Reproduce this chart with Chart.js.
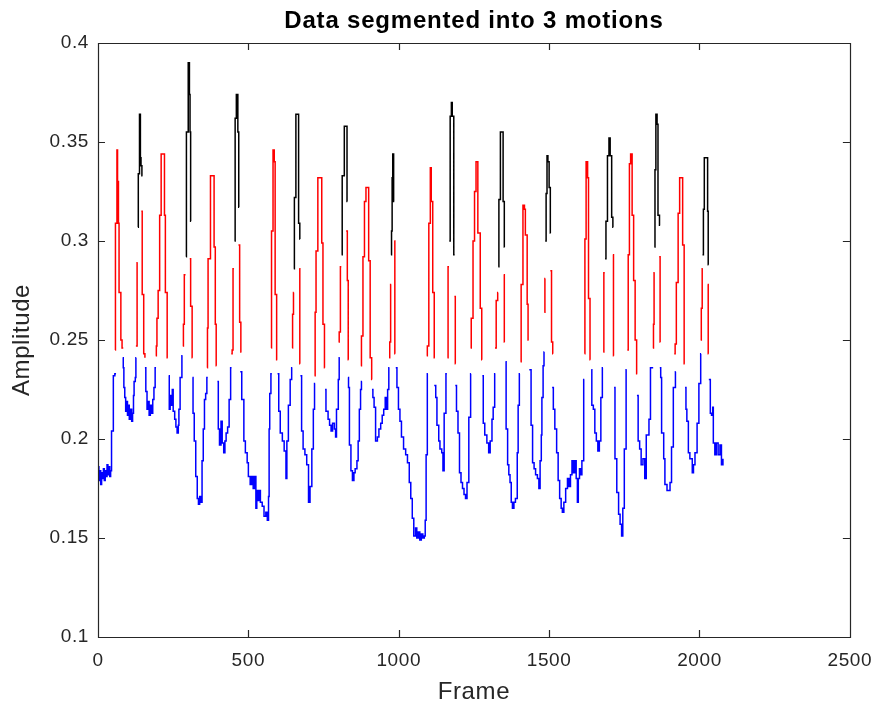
<!DOCTYPE html>
<html>
<head>
<meta charset="utf-8">
<script src="https://cdn.jsdelivr.net/npm/chart.js@4/dist/chart.umd.min.js"></script>
<style>
  html, body { margin: 0; padding: 0; background: #ffffff; }
  canvas { display: block; }
</style>
</head>
<body>
<canvas id="c" width="883" height="711"></canvas>
<script>
// ---- Data (frame, amplitude), one run per contiguous segment ----
const chartTitle = 'Data segmented into 3 motions';
const xLabel = 'Frame';
const yLabel = 'Amplitude';
const xTickValues = [0, 500, 1000, 1500, 2000, 2500];
const yTickValues = [0.1, 0.15, 0.2, 0.25, 0.3, 0.35, 0.4];

const blueSegments = [
  [[0,0.186],[3,0.179],[6,0.184],[9,0.177],[12,0.183],[15,0.180],[18,0.185],[21,0.179],[24,0.184],[27,0.181],[30,0.187],[33,0.182],[36,0.186],[39,0.181],[42,0.184],[45,0.204],[51,0.232],[56,0.233],[60,0.233]],
  [[82,0.241],[84,0.236],[86,0.226],[89,0.221],[92,0.214],[95,0.219],[98,0.212],[101,0.217],[104,0.210],[108,0.215],[112,0.209],[115,0.213],[118,0.222],[120,0.229],[124,0.231],[126,0.241],[127,0.241]],
  [[156,0.236],[159,0.224],[163,0.215],[167,0.219],[170,0.212],[174,0.217],[178,0.213],[182,0.220],[186,0.226],[190,0.236],[193,0.236]],
  [[235,0.232],[237,0.215],[240,0.222],[244,0.217],[247,0.225],[250,0.214],[255,0.210],[259,0.206],[263,0.203],[267,0.207],[269,0.215],[273,0.231],[279,0.242],[281,0.242]],
  [[314,0.231],[316,0.213],[320,0.199],[325,0.181],[330,0.170],[334,0.167],[338,0.171],[342,0.168],[346,0.189],[350,0.205],[354,0.220],[358,0.223],[362,0.231],[365,0.231]],
  [[397,0.229],[400,0.205],[404,0.197],[409,0.209],[413,0.198],[418,0.193],[422,0.199],[426,0.203],[431,0.206],[436,0.220],[441,0.236],[444,0.236]],
  [[473,0.234],[478,0.220],[485,0.199],[490,0.193],[496,0.188],[500,0.181],[506,0.177],[511,0.181],[516,0.175],[521,0.181],[525,0.165],[528,0.174],[532,0.169],[536,0.174],[540,0.168],[546,0.166],[552,0.161],[558,0.163],[563,0.159],[567,0.171],[569,0.205],[571,0.223],[575,0.233],[578,0.233]],
  [[597,0.233],[601,0.214],[606,0.203],[613,0.199],[619,0.194],[625,0.180],[628,0.199],[633,0.217],[639,0.230],[644,0.236],[646,0.236]],
  [[673,0.232],[677,0.204],[682,0.195],[688,0.192],[694,0.187],[700,0.168],[705,0.176],[711,0.195],[716,0.215],[720,0.228],[722,0.228]],
  [[755,0.225],[758,0.214],[765,0.210],[770,0.207],[775,0.204],[780,0.208],[786,0.205],[790,0.201],[793,0.215],[799,0.230],[802,0.241],[804,0.241]],
  [[831,0.231],[833,0.226],[836,0.197],[841,0.184],[846,0.179],[851,0.183],[855,0.185],[861,0.189],[865,0.199],[869,0.215],[873,0.225],[876,0.229],[878,0.229]],
  [[911,0.225],[914,0.221],[918,0.216],[923,0.199],[929,0.201],[934,0.205],[940,0.208],[945,0.212],[950,0.215],[955,0.221],[959,0.215],[963,0.225],[967,0.236],[969,0.236]],
  [[990,0.236],[994,0.226],[999,0.215],[1004,0.209],[1009,0.201],[1016,0.195],[1023,0.192],[1029,0.188],[1035,0.178],[1040,0.170],[1045,0.160],[1050,0.151],[1056,0.155],[1060,0.150],[1065,0.153],[1070,0.149],[1075,0.152],[1080,0.150],[1085,0.151],[1088,0.159],[1091,0.192],[1095,0.233],[1097,0.233]],
  [[1118,0.227],[1123,0.221],[1127,0.207],[1133,0.199],[1137,0.195],[1143,0.193],[1147,0.184],[1151,0.213],[1157,0.233],[1160,0.233]],
  [[1188,0.227],[1192,0.214],[1197,0.203],[1202,0.183],[1207,0.178],[1212,0.175],[1217,0.172],[1222,0.170],[1227,0.178],[1233,0.211],[1239,0.233],[1240,0.233]],
  [[1278,0.232],[1281,0.208],[1286,0.202],[1293,0.198],[1299,0.193],[1304,0.199],[1310,0.210],[1314,0.216],[1319,0.233],[1321,0.233]],
  [[1355,0.239],[1357,0.205],[1362,0.187],[1366,0.182],[1370,0.178],[1374,0.168],[1378,0.165],[1383,0.168],[1388,0.170],[1394,0.193],[1397,0.217],[1401,0.233],[1403,0.233]],
  [[1434,0.235],[1440,0.207],[1445,0.188],[1450,0.185],[1455,0.182],[1461,0.180],[1466,0.175],[1470,0.189],[1474,0.202],[1476,0.221],[1480,0.237],[1483,0.244],[1484,0.244]],
  [[1510,0.226],[1514,0.215],[1519,0.205],[1525,0.193],[1530,0.179],[1535,0.170],[1540,0.165],[1544,0.163],[1549,0.168],[1555,0.175],[1561,0.180],[1566,0.176],[1571,0.182],[1576,0.189],[1581,0.183],[1586,0.189],[1590,0.180],[1594,0.168],[1597,0.180],[1601,0.185],[1605,0.182],[1609,0.189],[1615,0.230],[1617,0.230]],
  [[1640,0.235],[1642,0.217],[1647,0.215],[1652,0.203],[1657,0.199],[1662,0.194],[1667,0.199],[1672,0.221],[1677,0.236],[1679,0.236]],
  [[1716,0.226],[1719,0.190],[1725,0.173],[1731,0.162],[1736,0.157],[1741,0.151],[1745,0.165],[1750,0.195],[1756,0.235],[1758,0.235]],
  [[1792,0.222],[1796,0.199],[1801,0.195],[1806,0.187],[1812,0.190],[1818,0.180],[1823,0.202],[1829,0.202],[1832,0.210],[1837,0.236],[1846,0.236]],
  [[1868,0.236],[1871,0.231],[1874,0.203],[1881,0.190],[1885,0.177],[1892,0.174],[1898,0.174],[1902,0.178],[1907,0.196],[1913,0.226],[1920,0.234],[1921,0.234]],
  [[1952,0.226],[1955,0.215],[1958,0.209],[1963,0.193],[1968,0.190],[1976,0.183],[1980,0.187],[1985,0.193],[1992,0.208],[1998,0.228],[2004,0.243],[2005,0.243]],
  [[2031,0.230],[2036,0.213],[2040,0.212],[2044,0.216],[2046,0.198],[2051,0.192],[2056,0.198],[2062,0.192],[2068,0.197],[2073,0.187],[2078,0.190]]
];

const redSegments = [
  [[57,0.245],[58,0.309],[63,0.346],[65,0.330],[68,0.309],[70,0.274],[76,0.250],[80,0.246],[84,0.246]],
  [[126,0.247],[130,0.289],[132,0.289]],
  [[144,0.315],[147,0.273],[152,0.243],[156,0.241]],
  [[192,0.242],[194,0.247],[196,0.261],[200,0.275],[205,0.313],[210,0.344],[218,0.344],[221,0.313],[224,0.274],[230,0.241],[232,0.241]],
  [[282,0.247],[284,0.258],[287,0.283],[291,0.283]],
  [[305,0.291],[308,0.267],[313,0.241],[314,0.241]],
  [[363,0.236],[364,0.256],[366,0.291],[374,0.333],[383,0.333],[386,0.297],[390,0.258],[393,0.237],[394,0.237]],
  [[443,0.243],[446,0.245],[449,0.286],[452,0.286]],
  [[467,0.298],[471,0.259],[475,0.244],[477,0.244]],
  [[576,0.246],[577,0.305],[582,0.346],[586,0.340],[589,0.273],[594,0.240],[596,0.240]],
  [[646,0.246],[647,0.263],[650,0.274],[651,0.274]],
  [[669,0.286],[671,0.238],[672,0.238]],
  [[720,0.232],[722,0.264],[725,0.295],[731,0.332],[739,0.332],[744,0.299],[748,0.258],[753,0.236],[754,0.236]],
  [[800,0.249],[802,0.254],[806,0.287],[809,0.287]],
  [[825,0.305],[829,0.280],[832,0.240],[833,0.240]],
  [[874,0.237],[876,0.252],[881,0.292],[886,0.320],[891,0.327],[897,0.327],[900,0.290],[905,0.241],[910,0.230],[911,0.230]],
  [[968,0.241],[970,0.249],[973,0.278],[975,0.278]],
  [[985,0.300],[987,0.243],[988,0.243]],
  [[1093,0.242],[1095,0.247],[1100,0.309],[1105,0.337],[1108,0.320],[1113,0.274],[1118,0.241],[1120,0.241]],
  [[1162,0.241],[1164,0.287],[1167,0.287]],
  [[1185,0.272],[1188,0.238],[1189,0.238]],
  [[1239,0.246],[1241,0.261],[1247,0.300],[1252,0.325],[1257,0.340],[1260,0.340],[1263,0.304],[1271,0.266],[1276,0.240],[1277,0.240]],
  [[1320,0.246],[1324,0.270],[1329,0.274],[1330,0.274]],
  [[1349,0.283],[1351,0.249],[1352,0.249]],
  [[1405,0.239],[1407,0.278],[1413,0.318],[1418,0.316],[1421,0.303],[1427,0.268],[1430,0.250],[1432,0.250]],
  [[1484,0.264],[1486,0.281],[1487,0.281]],
  [[1504,0.285],[1508,0.249],[1512,0.243],[1513,0.243]],
  [[1618,0.243],[1619,0.301],[1623,0.340],[1628,0.332],[1631,0.271],[1636,0.240],[1637,0.240]],
  [[1680,0.244],[1682,0.284],[1685,0.284]],
  [[1712,0.293],[1714,0.242],[1715,0.242]],
  [[1760,0.245],[1763,0.293],[1767,0.339],[1771,0.344],[1776,0.313],[1781,0.280],[1786,0.250],[1791,0.233],[1793,0.233]],
  [[1845,0.246],[1847,0.258],[1849,0.284],[1851,0.284]],
  [[1866,0.292],[1869,0.249],[1870,0.249]],
  [[1916,0.243],[1919,0.248],[1923,0.279],[1929,0.314],[1934,0.332],[1941,0.332],[1944,0.298],[1949,0.238],[1951,0.238]],
  [[2004,0.250],[2006,0.266],[2009,0.286],[2011,0.286]],
  [[2027,0.278],[2029,0.243],[2030,0.243]]
];

const blackSegments = [
  [[133,0.307],[134,0.334],[138,0.364],[141,0.342],[143,0.338],[146,0.333],[148,0.333]],
  [[293,0.292],[294,0.355],[300,0.390],[304,0.374],[306,0.355],[308,0.310],[309,0.310]],
  [[454,0.300],[456,0.362],[460,0.374],[465,0.355],[468,0.317],[469,0.317]],
  [[651,0.286],[653,0.322],[658,0.364],[665,0.364],[667,0.309],[671,0.301],[672,0.301]],
  [[810,0.293],[812,0.333],[819,0.358],[826,0.358],[828,0.320],[829,0.320]],
  [[974,0.293],[976,0.305],[978,0.332],[980,0.344],[983,0.320],[985,0.320]],
  [[1168,0.300],[1171,0.363],[1175,0.370],[1178,0.363],[1183,0.293],[1186,0.293]],
  [[1331,0.287],[1333,0.321],[1338,0.355],[1345,0.355],[1347,0.320],[1351,0.297],[1352,0.297]],
  [[1487,0.300],[1490,0.324],[1493,0.343],[1496,0.340],[1500,0.327],[1504,0.304],[1505,0.304]],
  [[1686,0.291],[1689,0.310],[1694,0.343],[1699,0.352],[1703,0.343],[1708,0.312],[1712,0.307],[1713,0.307]],
  [[1850,0.297],[1852,0.336],[1855,0.364],[1859,0.359],[1862,0.313],[1867,0.308],[1869,0.308]],
  [[2010,0.293],[2013,0.316],[2016,0.342],[2024,0.342],[2027,0.315],[2029,0.288],[2030,0.288]]
];

// ---- helpers ----
function toPoints(segments) {
  const pts = [];
  segments.forEach((seg, i) => {
    if (i > 0) {
      const prev = segments[i - 1];
      pts.push({ x: (prev[prev.length - 1][0] + seg[0][0]) / 2, y: null });
    }
    seg.forEach(([f, a]) => pts.push({ x: f, y: a }));
  });
  return pts;
}

const FONT = '"Liberation Sans", Arial, Helvetica, sans-serif';
const AXIS_COLOR = '#262626';

const framePlugin = {
  id: 'frameBox',
  beforeDraw(chart) {
    const ctx = chart.ctx;
    ctx.save();
    ctx.fillStyle = '#ffffff';
    ctx.fillRect(0, 0, chart.width, chart.height);
    ctx.restore();
    ctx.letterSpacing = '0.6px';
  },
  afterDatasetsDraw(chart) {
    const { ctx, chartArea, scales } = chart;
    const { left, right, top, bottom } = chartArea;
    const tl = 7;
    ctx.save();
    ctx.strokeStyle = AXIS_COLOR;
    ctx.lineWidth = 1.2;
    ctx.beginPath();
    ctx.rect(Math.round(left) + 0.5, Math.round(top) + 0.5, Math.round(right - left), Math.round(bottom - top));
    xTickValues.forEach(v => {
      const px = Math.round(scales.x.getPixelForValue(v)) + 0.5;
      ctx.moveTo(px, bottom); ctx.lineTo(px, bottom - tl);
      ctx.moveTo(px, top); ctx.lineTo(px, top + tl);
    });
    yTickValues.forEach(v => {
      const py = Math.round(scales.y.getPixelForValue(v)) + 0.5;
      ctx.moveTo(left, py); ctx.lineTo(left + tl, py);
      ctx.moveTo(right, py); ctx.lineTo(right - tl, py);
    });
    ctx.stroke();
    ctx.restore();
  },
  afterDraw(chart) {
    const { ctx, chartArea } = chart;
    ctx.save();
    ctx.letterSpacing = '0.8px';
    ctx.font = 'bold 24px ' + FONT;
    ctx.fillStyle = '#000000';
    ctx.textAlign = 'center';
    ctx.textBaseline = 'alphabetic';
    ctx.fillText(chartTitle, (chartArea.left + chartArea.right) / 2, 28);
    ctx.restore();
    ctx.letterSpacing = '0px';
  }
};

const lineStyle = { pointRadius: 0, borderWidth: 1.5, stepped: 'before', spanGaps: false, fill: false, tension: 0 };

new Chart(document.getElementById('c'), {
  type: 'line',
  data: {
    datasets: [
      Object.assign({ label: 'motion 1', data: toPoints(blueSegments), borderColor: '#0000ff' }, lineStyle),
      Object.assign({ label: 'motion 2', data: toPoints(redSegments), borderColor: '#ff0000' }, lineStyle),
      Object.assign({ label: 'motion 3', data: toPoints(blackSegments), borderColor: '#000000' }, lineStyle)
    ]
  },
  options: {
    responsive: false,
    animation: false,
    devicePixelRatio: 1,
    layout: { padding: { top: 43, right: 31, left: 0, bottom: 0 } },
    plugins: { legend: { display: false }, title: { display: false }, tooltip: { enabled: false } },
    scales: {
      x: {
        type: 'linear', min: 0, max: 2500,
        afterBuildTicks(s) { s.ticks = xTickValues.map(v => ({ value: v })); },
        afterFit(s) { s.height = 74; },
        ticks: { color: AXIS_COLOR, font: { family: FONT, size: 19 }, padding: 12, maxRotation: 0, autoSkip: false, callback: v => String(v) },
        grid: { display: false, drawTicks: false },
        border: { display: false },
        title: { display: true, text: xLabel, color: AXIS_COLOR, font: { family: FONT, size: 24 }, padding: { top: 0, bottom: 4 } }
      },
      y: {
        type: 'linear', min: 0.1, max: 0.4,
        afterBuildTicks(s) { s.ticks = yTickValues.map(v => ({ value: v })); },
        afterFit(s) { s.width = 98; },
        ticks: { color: AXIS_COLOR, font: { family: FONT, size: 19 }, padding: 9, autoSkip: false, callback: v => String(+Number(v).toFixed(2)) },
        grid: { display: false, drawTicks: false },
        border: { display: false },
        title: { display: true, text: yLabel, color: AXIS_COLOR, font: { family: FONT, size: 24 }, padding: { top: 8, bottom: 8 } }
      }
    }
  },
  plugins: [framePlugin]
});
</script>
</body>
</html>
